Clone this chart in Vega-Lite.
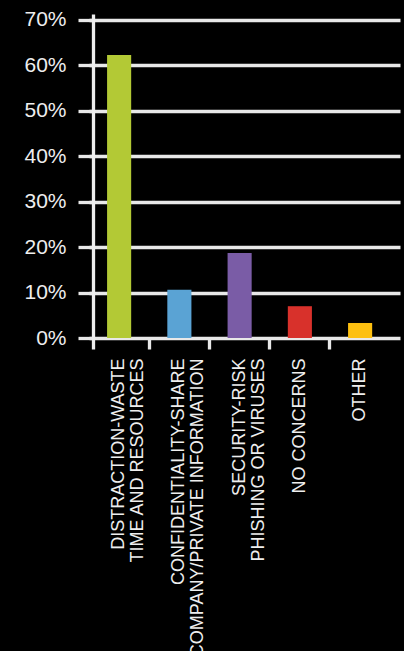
{
  "$schema": "https://vega.github.io/schema/vega-lite/v6.json",
  "autosize": "none",
  "padding": {"left": 89, "top": 14, "right": 4, "bottom": 302},
  "width": 311,
  "height": 335,
  "background": "#000000",
  "config": {"view": {"stroke": null}, "font": "Liberation Sans"},
  "data": {
    "values": [
      {"category": "DISTRACTION-WASTE\nTIME AND RESOURCES", "share": 0.623},
      {"category": "CONFIDENTIALITY-SHARE\nCOMPANY/PRIVATE INFORMATION", "share": 0.106},
      {"category": "SECURITY-RISK\nPHISHING OR VIRUSES", "share": 0.187},
      {"category": "NO CONCERNS", "share": 0.07},
      {"category": "OTHER", "share": 0.033}
    ]
  },
  "mark": {"type": "bar", "width": {"band": 0.4}},
  "encoding": {
    "x": {
      "field": "category",
      "type": "nominal",
      "sort": null,
      "scale": {"paddingInner": 0, "paddingOuter": 0.081, "align": 0},
      "axis": {
        "title": null,
        "orient": "bottom",
        "offset": -11,
        "domain": false,
        "ticks": true,
        "tickSize": 11,
        "tickWidth": 3.3,
        "tickColor": {"condition": {"test": "indexof(datum.value, 'DISTRACTION') === 0", "value": "transparent"}, "value": "#e8e8e8"},
        "bandPosition": 0,
        "labelAngle": -90,
        "labelAlign": "right",
        "labelBaseline": "middle",
        "labelPadding": 9,
        "labelFontSize": 18,
        "labelLineHeight": 19,
        "labelColor": "#eeeeee",
        "labelFont": "Liberation Sans",
        "labelExpr": "split(datum.label, '\\n')",
        "labelOverlap": false,
        "labelLimit": 0
      }
    },
    "y": {
      "field": "share",
      "type": "quantitative",
      "scale": {"domain": [-0.0242, 0.7132], "nice": false, "zero": false},
      "axis": {
        "title": null,
        "values": [0, 0.1, 0.2, 0.3, 0.4, 0.5, 0.6, 0.7],
        "format": ".0%",
        "offset": -4,
        "grid": true,
        "gridColor": "#e8e8e8",
        "gridWidth": 3.3,
        "domain": true,
        "domainColor": "#eeeeee",
        "domainWidth": 3.3,
        "ticks": true,
        "tickSize": 15,
        "tickWidth": 3.3,
        "tickColor": "#e8e8e8",
        "labelPadding": 12,
        "labelFontSize": 21,
        "labelColor": "#eeeeee",
        "labelFont": "Liberation Sans"
      }
    },
    "color": {
      "field": "category",
      "type": "nominal",
      "sort": null,
      "scale": {"range": ["#b3c935", "#5aa3d4", "#7a5ca6", "#d8312b", "#fdc010"]},
      "legend": null
    }
  }
}
